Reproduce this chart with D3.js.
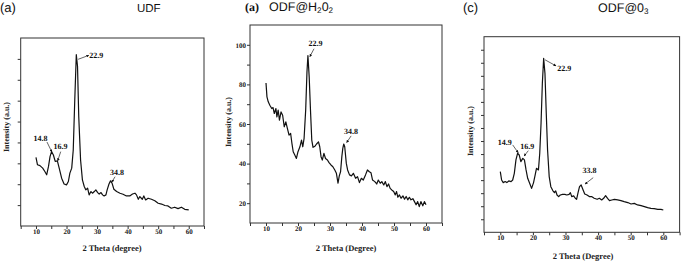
<!DOCTYPE html>
<html>
<head>
<meta charset="utf-8">
<script src="https://cdn.jsdelivr.net/npm/d3@7"></script>
<style>
  body { margin: 0; background: #fff; }
  svg { display: block; }
  svg text { text-rendering: geometricPrecision; -webkit-font-smoothing: antialiased; }
</style>
</head>
<body>
<svg id="chart" width="685" height="261"></svg>
<script>
// ---- datos ----
const udfTheta = [10, 10.5, 11.3, 12.2, 12.9, 13.5, 14.1, 14.6, 15.1, 15.7, 16.3, 17.0, 17.6, 18.4, 19.2, 20.0, 20.6, 21.1, 21.7, 22.2, 22.7, 23.2, 23.6, 24.0, 24.6, 25.2, 25.8, 26.3, 26.9, 27.4, 28.0, 28.5, 29.1, 29.6, 30.2, 30.7, 31.3, 31.8, 32.3, 32.9, 33.3, 33.9, 34.4, 34.9, 35.5, 36.4, 37.5, 38.5, 39.6, 40.7, 41.6, 42.4, 42.9, 43.5, 44.0, 44.8, 45.3, 45.9, 46.7, 47.8, 48.9, 50.0, 51.1, 52.2, 53.2, 54.3, 55.4, 56.5, 57.6, 58.7, 60.0];
const udfIntensity = [32.9, 29.3, 28.9, 27.7, 26.1, 24.5, 28.5, 33.2, 35.6, 34.0, 30.9, 31.2, 27.7, 22.9, 20.1, 19.7, 21.3, 25.3, 27.7, 36.4, 60.4, 82.0, 76.4, 52.4, 31.6, 22.1, 18.9, 17.3, 18.1, 14.9, 16.5, 15.7, 16.5, 17.3, 16.0, 15.3, 16.0, 14.9, 14.4, 14.9, 17.3, 20.1, 21.6, 20.5, 17.6, 16.5, 15.7, 15.2, 14.4, 14.4, 15.3, 15.7, 14.9, 12.8, 14.1, 12.8, 14.4, 12.5, 13.3, 12.8, 12.1, 10.9, 10.5, 9.8, 9.6, 8.5, 9.0, 8.3, 9.0, 8.0, 7.7];

const h2o2Theta = [10, 10.3, 10.7, 11.2, 11.8, 12.2, 12.6, 13.1, 13.4, 13.8, 14.2, 14.7, 15.2, 15.7, 16.2, 16.7, 17.2, 17.7, 18.1, 18.5, 19.0, 19.5, 20.0, 20.6, 21.1, 21.5, 21.9, 22.4, 22.8, 23.1, 23.5, 23.9, 24.3, 24.7, 25.3, 25.8, 26.4, 26.8, 27.2, 27.6, 28.1, 28.6, 29.2, 29.7, 30.3, 30.9, 31.5, 32.0, 32.5, 32.9, 33.3, 33.7, 34.0, 34.3, 34.6, 35.1, 35.5, 36.1, 36.7, 37.3, 38.0, 38.6, 39.2, 39.8, 40.4, 41.1, 41.7, 42.3, 42.8, 43.3, 44.0, 44.6, 45.1, 45.7, 46.2, 46.8, 47.3, 47.8, 48.3, 48.8, 49.3, 49.9, 50.4, 50.8, 51.2, 51.7, 52.2, 52.8, 53.3, 53.8, 54.3, 54.8, 55.3, 55.9, 56.4, 56.9, 57.4, 57.9, 58.4, 59.0, 59.5, 60.0];
const h2o2Intensity = [80.7, 73.7, 71.2, 69.5, 67.8, 68.3, 65.3, 67.8, 63.6, 67.0, 61.9, 66.1, 64.4, 58.6, 61.1, 57.7, 54.4, 55.2, 50.2, 46.0, 44.3, 42.6, 46.0, 48.5, 51.9, 48.5, 52.7, 67.0, 86.2, 94.6, 83.7, 67.0, 51.9, 48.2, 48.8, 49.9, 51.0, 48.5, 43.5, 41.8, 45.2, 42.6, 41.8, 40.5, 39.3, 38.4, 36.8, 35.1, 30.1, 33.8, 35.9, 43.5, 47.7, 49.9, 48.5, 40.1, 36.8, 34.3, 33.8, 35.1, 32.6, 33.4, 30.4, 32.6, 31.7, 34.3, 36.8, 35.9, 35.4, 31.7, 30.9, 29.7, 31.7, 30.1, 30.9, 29.2, 30.9, 28.4, 29.7, 27.5, 26.7, 25.9, 24.2, 25.9, 23.0, 24.2, 22.5, 23.7, 22.0, 23.4, 21.7, 23.0, 21.7, 22.3, 20.8, 19.2, 20.8, 18.3, 20.8, 18.7, 20.8, 19.2];

const o3Theta = [10, 10.4, 10.9, 11.5, 12.0, 12.6, 13.3, 13.8, 14.3, 14.8, 15.3, 15.8, 16.3, 16.9, 17.4, 17.9, 18.4, 19.0, 19.6, 20.2, 20.7, 21.1, 21.7, 22.1, 22.5, 22.9, 23.3, 23.7, 24.1, 24.5, 25.0, 25.5, 26.1, 26.6, 27.0, 27.4, 27.9, 28.4, 29.1, 29.8, 30.4, 31.1, 31.5, 31.9, 32.5, 33.0, 33.4, 33.8, 34.3, 34.8, 35.4, 35.9, 36.6, 37.3, 38.0, 38.8, 39.7, 40.4, 41.1, 41.7, 42.3, 42.9, 43.5, 44.2, 45.0, 46.0, 47.0, 48.0, 49.1, 50.1, 51.1, 52.1, 53.2, 54.2, 55.2, 56.2, 57.2, 58.3, 59.3, 60.0];
const o3Intensity = [46.5, 40.1, 38.1, 38.9, 38.1, 39.4, 38.9, 40.1, 45.2, 55.5, 60.6, 59.3, 54.2, 56.7, 55.5, 47.8, 41.4, 37.6, 33.7, 38.1, 44.0, 49.1, 47.8, 60.6, 83.6, 114.3, 133.4, 121.9, 91.3, 63.1, 42.7, 35.0, 32.0, 30.4, 31.7, 28.6, 27.4, 28.6, 29.1, 29.1, 28.6, 29.1, 30.4, 27.4, 27.9, 26.1, 25.3, 29.9, 35.0, 36.3, 32.5, 29.4, 28.6, 27.4, 27.4, 26.1, 25.3, 26.1, 24.8, 26.1, 28.1, 26.1, 24.3, 24.8, 25.3, 24.8, 24.3, 23.5, 22.8, 21.7, 22.2, 21.0, 20.4, 19.7, 18.9, 18.4, 18.1, 17.6, 17.6, 17.1];

// etiquetas de picos: texto, posicion del texto y flecha (coordenadas de datos)
const udfPeaks = [
  { label: "22.9", lx: 29.7, ly: 81.9, x1: 23.8, y1: 79.8, x2: 27.3, y2: 81.7 },
  { label: "14.8", lx: 11.5, ly: 42.1, x1: 13.6, y1: 40.2, x2: 15.2, y2: 35.4 },
  { label: "16.9", lx: 18.0, ly: 38.3, x1: 18.1, y1: 35.6, x2: 17.1, y2: 31.2 },
  { label: "34.8", lx: 36.5, ly: 25.9, x1: 35.9, y1: 23.6, x2: 34.8, y2: 21.0 }
];
const h2o2Peaks = [
  { label: "22.9", lx: 25.5, ly: 100.9, x1: 25.0, y1: 98.0, x2: 23.7, y2: 94.0 },
  { label: "34.8", lx: 36.6, ly: 56.5, x1: 36.6, y1: 54.0, x2: 35.2, y2: 50.6 }
];
const o3Peaks = [
  { label: "22.9", lx: 29.6, ly: 126.0, x1: 23.7, y1: 132.3, x2: 27.1, y2: 127.6 },
  { label: "14.9", lx: 11.4, ly: 69.2, x1: 13.8, y1: 67.0, x2: 15.5, y2: 61.0 },
  { label: "16.9", lx: 18.3, ly: 66.2, x1: 18.6, y1: 62.6, x2: 17.3, y2: 58.5 },
  { label: "33.8", lx: 37.4, ly: 47.8, x1: 38.5, y1: 41.9, x2: 36.0, y2: 37.0 }
];

const xTickLabels = [10, 20, 30, 40, 50, 60];
const h2o2YTickLabels = [20, 40, 60, 80, 100];

const serif = "'Liberation Serif', 'DejaVu Serif', serif";
const sans = "'Liberation Sans', Arial, sans-serif";

const svg = d3.select("#chart");

// marcador de flecha
svg.append("defs").append("marker")
  .attr("id", "head")
  .attr("viewBox", "0 0 10 10")
  .attr("refX", 9).attr("refY", 5)
  .attr("markerWidth", 4).attr("markerHeight", 4)
  .attr("orient", "auto-start-reverse")
  .append("path")
  .attr("d", "M0,0 L10,5 L0,10 z")
  .attr("fill", "#111");

function drawPanel(cfg) {
  const x = d3.scaleLinear().domain([5, 65]).range([cfg.left, cfg.right]);
  const y = d3.scaleLinear().domain(cfg.yDomain).range([cfg.bottom, cfg.top]);
  const g = svg.append("g");

  // ejes
  const xAxis = d3.axisBottom(x)
    .tickValues(d3.range(5, 66, 5))
    .tickSize(3)
    .tickFormat(d => xTickLabels.includes(d) ? d : "");
  const gx = g.append("g")
    .attr("transform", `translate(0,${cfg.bottom})`)
    .call(xAxis);
  gx.selectAll("text")
    .attr("dy", 0)
    .attr("y", cfg.xTickY)
    .style("font-family", serif).style("font-weight", "bold").style("font-size", "7px")
    .attr("fill", "#222");

  const yAxis = d3.axisLeft(y)
    .tickValues(cfg.yTicks)
    .tickSize(3)
    .tickFormat(d => cfg.yLabels && cfg.yLabels.includes(d) ? d : "");
  const gy = g.append("g")
    .attr("transform", `translate(${cfg.left},0)`)
    .call(yAxis);
  gy.selectAll("text")
    .attr("x", -4)
    .style("font-family", serif).style("font-weight", "bold").style("font-size", "7px")
    .attr("fill", "#222");

  g.selectAll(".domain").remove();
  g.selectAll(".tick line").attr("stroke", "#333");

  // marco
  g.append("rect")
    .attr("x", cfg.left).attr("y", cfg.top)
    .attr("width", cfg.right - cfg.left).attr("height", cfg.bottom - cfg.top)
    .attr("fill", "none").attr("stroke", "#333").attr("stroke-width", 1);

  // curva
  const pts = cfg.theta.map((t, i) => [t, cfg.intensity[i]]);
  g.append("path")
    .datum(pts)
    .attr("fill", "none")
    .attr("stroke", "#111")
    .attr("stroke-width", 1.2)
    .attr("stroke-linejoin", "round")
    .attr("d", d3.line().x(d => x(d[0])).y(d => y(d[1])));

  // etiquetas de picos
  cfg.peaks.forEach(p => {
    g.append("line")
      .attr("x1", x(p.x1)).attr("y1", y(p.y1))
      .attr("x2", x(p.x2)).attr("y2", y(p.y2))
      .attr("stroke", "#222").attr("stroke-width", 0.7)
      .attr("marker-end", "url(#head)");
    g.append("text")
      .attr("x", x(p.lx)).attr("y", y(p.ly) + 3)
      .attr("text-anchor", "middle")
      .style("font-family", serif).style("font-weight", "bold").style("font-size", "8px")
      .style("fill", "#111")
      .text(p.label);
  });

  // titulos de ejes
  g.append("text")
    .attr("transform", `translate(${cfg.yTitleX},${cfg.yTitleY}) rotate(-90)`)
    .attr("text-anchor", "middle")
    .attr("dy", "0.35em")
    .style("font-family", serif).style("font-weight", "bold").style("font-size", "8px")
    .attr("fill", "#222")
    .text("Intensity (a.u.)");
  g.append("text")
    .attr("x", cfg.xTitleX).attr("y", cfg.xTitleY)
    .attr("text-anchor", "middle")
    .attr("dy", "0.35em")
    .style("font-family", serif).style("font-weight", "bold").style("font-size", "8.5px")
    .attr("fill", "#222")
    .text(cfg.xTitle);
}

drawPanel({
  left: 20.7, right: 204, top: 38, bottom: 226,
  yDomain: [0, 90], yTicks: d3.range(10, 90, 10),
  theta: udfTheta, intensity: udfIntensity, peaks: udfPeaks,
  xTickY: 8, yTitleX: 6, yTitleY: 127,
  xTitleX: 112, xTitleY: 248, xTitle: "2 Theta (degree)"
});
drawPanel({
  left: 250, right: 442, top: 25, bottom: 223,
  yDomain: [10, 110], yTicks: d3.range(20, 110, 10), yLabels: h2o2YTickLabels,
  theta: h2o2Theta, intensity: h2o2Intensity, peaks: h2o2Peaks,
  xTickY: 8, yTitleX: 228, yTitleY: 122,
  xTitleX: 346, xTitleY: 248, xTitle: "2 Theta (Degree)"
});
drawPanel({
  left: 484, right: 679.6, top: 36.7, bottom: 232.3,
  yDomain: [0, 150], yTicks: d3.range(10, 150, 10),
  theta: o3Theta, intensity: o3Intensity, peaks: o3Peaks,
  xTickY: 8, yTitleX: 470, yTitleY: 131,
  xTitleX: 583, xTitleY: 256, xTitle: "2 Theta (Degree)"
});

// titulos de paneles
function title(xp, yp, font, size, weight, parts) {
  const t = svg.append("text")
    .attr("x", xp).attr("y", yp)
    .style("font-family", font).style("font-size", size + "px").style("font-weight", weight)
    .attr("fill", "#111");
  parts.forEach(p => {
    const s = t.append("tspan").text(p[0]);
    if (p[1]) s.style("font-size", (size * 0.65) + "px").attr("dy", 2);
    else if (p[2]) s.attr("dy", -2);
  });
}
title(0, 12, sans, 13, "normal", [["(a)"]]);
title(137, 12, sans, 11.5, "normal", [["UDF"]]);
title(245, 11, serif, 12, "bold", [["(a)"]]);
title(269, 11, sans, 12.5, "normal", [["ODF@H"], ["2", true], ["0", false, true], ["2", true]]);
title(463, 12, sans, 13, "normal", [["(c)"]]);
title(598, 12, sans, 12.5, "normal", [["ODF@0"], ["3", true]]);
</script>
</body>
</html>
